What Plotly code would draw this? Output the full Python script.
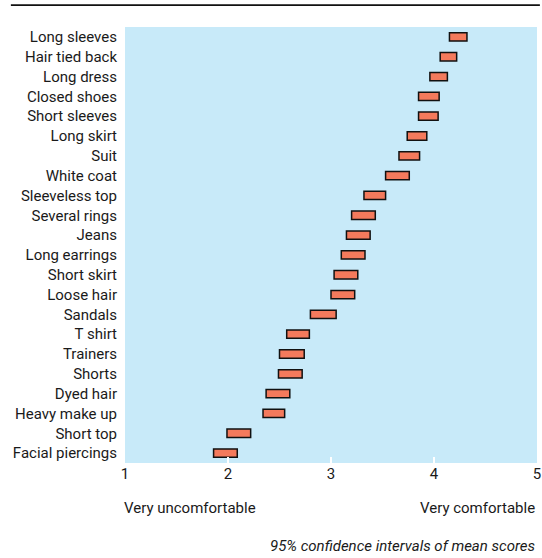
import plotly.graph_objects as go

categories = ["Long sleeves", "Hair tied back", "Long dress", "Closed shoes", "Short sleeves",
              "Long skirt", "Suit", "White coat", "Sleeveless top", "Several rings", "Jeans",
              "Long earrings", "Short skirt", "Loose hair", "Sandals", "T shirt", "Trainers",
              "Shorts", "Dyed hair", "Heavy make up", "Short top", "Facial piercings"]
ci_low = [4.15, 4.06, 3.96, 3.85, 3.85, 3.74, 3.66, 3.53, 3.32, 3.20, 3.15, 3.10, 3.03, 3.00,
          2.80, 2.57, 2.50, 2.49, 2.37, 2.34, 1.99, 1.86]
ci_high = [4.32, 4.22, 4.13, 4.05, 4.04, 3.93, 3.86, 3.76, 3.53, 3.43, 3.38, 3.33, 3.26, 3.23,
           3.05, 2.79, 2.74, 2.72, 2.60, 2.55, 2.22, 2.09]
x_ticks = [1, 2, 3, 4, 5]

font_family = "Roboto, Liberation Sans, sans-serif"

fig = go.Figure()
fig.add_trace(go.Bar(
    y=categories,
    x=[h - l for l, h in zip(ci_low, ci_high)],
    base=ci_low,
    orientation="h",
    width=0.42,
    marker=dict(color="#F47A5C", line=dict(color="#111111", width=1.5)),
    hoverinfo="skip",
))

W, H = 542, 558
fig.update_layout(
    width=W, height=H,
    margin=dict(l=125, r=5, t=27, b=95, autoexpand=False),
    paper_bgcolor="white",
    plot_bgcolor="#C8EAF9",
    showlegend=False,
    font=dict(family=font_family, size=15, color="#1a1a1a"),
    xaxis=dict(range=[1, 5], tickvals=x_ticks, ticks="inside", ticklen=6, tickwidth=2,
               tickcolor="white", showgrid=False, zeroline=False, showline=False,
               automargin=False, tickfont=dict(size=15)),
    yaxis=dict(categoryorder="array", categoryarray=categories, autorange=False,
               range=[len(categories) - 0.5, -0.5], showgrid=False, zeroline=False,
               automargin=False, ticks="", ticklabelstandoff=7, tickfont=dict(size=15)),
    shapes=[dict(type="line", xref="paper", yref="paper", x0=-0.277, x1=1.007,
                 y0=1.05, y1=1.05, line=dict(color="#111111", width=1.8))],
    annotations=[
        dict(text="Very uncomfortable", xref="paper", yref="paper", x=-0.008, y=-0.103,
             xanchor="left", yanchor="middle", showarrow=False, font=dict(size=15)),
        dict(text="Very comfortable", xref="paper", yref="paper", x=1.0, y=-0.103,
             xanchor="right", yanchor="middle", showarrow=False, font=dict(size=15)),
        dict(text="<i>95% confidence intervals of mean scores</i>", xref="paper", yref="paper",
             x=1.0, y=-0.19, xanchor="right", yanchor="middle", showarrow=False,
             font=dict(size=15)),
    ],
)

fig.write_html("out.html",
               config={"displayModeBar": False},
               post_script="document.body.style.margin='0';document.body.style.overflow='hidden';")
